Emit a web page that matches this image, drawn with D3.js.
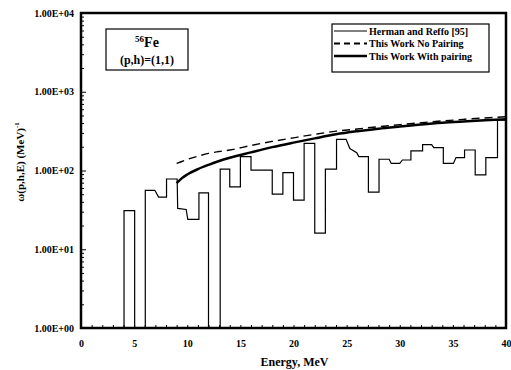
<!DOCTYPE html>
<html>
<head>
<meta charset="utf-8">
<script src="https://cdn.jsdelivr.net/npm/d3@7"></script>
<style>
  body { margin: 0; background: #fff; }
  svg text { font-family: "Liberation Serif", "Times New Roman", serif; font-weight: bold; }
</style>
</head>
<body>
<svg id="chart" width="511" height="370"></svg>
<script>
// Herman and Reffo histogram, vertices (energy, density); 1 = drawn down to the axis floor
var hermanE = [4.05, 4.05, 5.05, 5.05, 6.05, 6.05, 6.95, 7.3, 8.05, 8.05, 9.05, 9.1, 9.9, 10.05, 11.1, 11.1, 12.0, 12.0,
               13.1, 13.1, 14.0, 14.0, 15.0, 15.0, 16.0, 16.0, 18.0, 18.0, 19.0, 19.0, 20.0, 20.0, 21.0, 21.0, 22.0, 22.0,
               23.0, 23.0, 24.05, 24.05, 24.95, 25.3, 25.95, 26.15, 27.05, 27.05, 28.05, 28.05, 29.0, 29.2, 30.0, 30.25,
               31.05, 31.05, 32.15, 32.15, 33.0, 33.2, 34.1, 34.1, 35.05, 35.3, 36.1, 36.1, 37.1, 37.1, 38.1, 38.1,
               39.2, 39.2, 40.0];
var hermanV = [1, 31, 31, 1, 1, 56, 56, 46, 46, 78, 78, 33, 32, 24, 24, 52, 52, 1,
               1, 104, 104, 62, 62, 150, 150, 101, 101, 50, 50, 94, 94, 42, 42, 221, 221, 16,
               16, 104, 104, 249, 249, 190, 168, 150, 150, 53, 53, 139, 139, 123, 123, 136,
               136, 178, 178, 213, 213, 195, 195, 123, 123, 146, 146, 182, 182, 88, 88, 146,
               146, 435, 435];

// this work, energies in MeV
var workE = [9, 9.5, 10, 11, 12, 13, 14, 16, 18, 20, 22, 24, 26, 28, 30, 32, 34, 36, 38, 40];
var noPairing = [123, 130, 138, 152, 165, 174, 182, 208, 234, 260, 288, 316, 337, 360, 382, 404, 426, 446, 465, 482];
var withPairing = [69, 80, 89, 104, 118, 132, 145, 170, 198, 226, 256, 288, 315, 340, 362, 384, 404, 420, 435, 447];

var xTicks = [0, 5, 10, 15, 20, 25, 30, 35, 40];
var yTicks = [1, 10, 100, 1000, 10000];

var legendNames = ["Herman and Reffo [95]", "This Work No Pairing", "This Work With pairing"];

var svg = d3.select("#chart");
var pLeft = 81, pRight = 506, pTop = 13, pBottom = 328;

var x = d3.scaleLinear().domain([0, 40]).range([pLeft, pRight]);
var y = d3.scaleLog().domain([1, 10000]).range([pBottom, pTop]);

// minor x ticks, every MeV, pointing in
svg.append("g")
    .attr("transform", "translate(0," + pBottom + ")")
    .call(d3.axisBottom(x).tickValues(d3.range(0, 41, 1)).tickSize(-3).tickFormat(""))
    .call(function(g) { g.select(".domain").remove(); });

svg.append("g")
    .attr("transform", "translate(0," + pBottom + ")")
    .call(d3.axisBottom(x).tickValues(xTicks).tickSize(0).tickPadding(12).tickFormat(d3.format("d")))
    .call(function(g) {
        g.select(".domain").remove();
        g.selectAll("text").attr("font-size", 10).attr("font-family", "Liberation Serif").attr("font-weight", "bold");
    });

// y minor ticks
var minors = [];
yTicks.slice(0, -1).forEach(function(t) {
    for (var k = 2; k <= 9; k++) minors.push(t * k);
});
svg.append("g")
    .attr("transform", "translate(" + pLeft + ",0)")
    .call(d3.axisLeft(y).tickValues(minors).tickSize(-3).tickFormat(""))
    .call(function(g) { g.select(".domain").remove(); });

svg.append("g")
    .attr("transform", "translate(" + pLeft + ",0)")
    .call(d3.axisLeft(y).tickValues(yTicks).tickSize(-5).tickPadding(7)
        .tickFormat(function(d) { return "1.00E+" + String(Math.round(Math.log10(d))).padStart(2, "0"); }))
    .call(function(g) {
        g.select(".domain").remove();
        g.selectAll("text").attr("font-size", 10).attr("font-family", "Liberation Serif").attr("font-weight", "bold");
    });

// data
var hermanPts = hermanE.map(function(e, i) { return [e, hermanV[i]]; });
var line = d3.line().x(function(d) { return x(d[0]); }).y(function(d) { return y(d[1]); });

svg.append("path")
    .datum(hermanPts)
    .attr("d", line)
    .attr("fill", "none")
    .attr("stroke", "#000")
    .attr("stroke-width", 1.2);

var smooth = d3.line().curve(d3.curveMonotoneX).x(function(d) { return x(d[0]); }).y(function(d) { return y(d[1]); });

svg.append("path")
    .datum(workE.map(function(e, i) { return [e, noPairing[i]]; }))
    .attr("d", smooth)
    .attr("fill", "none")
    .attr("stroke", "#000")
    .attr("stroke-width", 1.4)
    .attr("stroke-dasharray", "8,5");

svg.append("path")
    .datum(workE.map(function(e, i) { return [e, withPairing[i]]; }))
    .attr("d", smooth)
    .attr("fill", "none")
    .attr("stroke", "#000")
    .attr("stroke-width", 2.5);

// frame
svg.append("rect")
    .attr("x", pLeft).attr("y", pTop)
    .attr("width", pRight - pLeft).attr("height", pBottom - pTop)
    .attr("fill", "none").attr("stroke", "#000").attr("stroke-width", 2.5);

// axis titles
svg.append("text")
    .attr("x", (pLeft + pRight) / 2 + 1).attr("y", 366)
    .attr("text-anchor", "middle").attr("font-size", 12)
    .text("Energy, MeV");

var yt = svg.append("text")
    .attr("transform", "translate(24,162) rotate(-90)")
    .attr("text-anchor", "middle").attr("font-size", 11);
yt.append("tspan").text("\u03c9(p,h,E) (MeV)");
yt.append("tspan").attr("dy", -5).attr("font-size", 7).text("-1");

// nucleus box
svg.append("rect")
    .attr("x", 106).attr("y", 29).attr("width", 82).attr("height", 41)
    .attr("fill", "#fff").attr("stroke", "#000").attr("stroke-width", 1.2);
var fe = svg.append("text").attr("x", 147).attr("y", 47).attr("text-anchor", "middle").attr("font-size", 14);
fe.append("tspan").attr("font-size", 9).attr("dy", -5).text("56");
fe.append("tspan").attr("dy", 5).text("Fe");
svg.append("text").attr("x", 147).attr("y", 64).attr("text-anchor", "middle").attr("font-size", 12)
    .text("(p,h)=(1,1)");

// legend
var lg = svg.append("g");
lg.append("rect")
    .attr("x", 332).attr("y", 24).attr("width", 157).attr("height", 48)
    .attr("fill", "#fff").attr("stroke", "#000").attr("stroke-width", 1.2);
var legStyles = [{w: 1.2, dash: null}, {w: 2, dash: "6,4"}, {w: 2.5, dash: null}];
legendNames.forEach(function(name, i) {
    var ry = 31 + i * 12.5;
    lg.append("line")
        .attr("x1", 334).attr("x2", 367).attr("y1", ry).attr("y2", ry)
        .attr("stroke", "#000").attr("stroke-width", legStyles[i].w)
        .attr("stroke-dasharray", legStyles[i].dash);
    lg.append("text").attr("x", 369).attr("y", ry + 3.5).attr("font-size", 10).text(name);
});
</script>
</body>
</html>
